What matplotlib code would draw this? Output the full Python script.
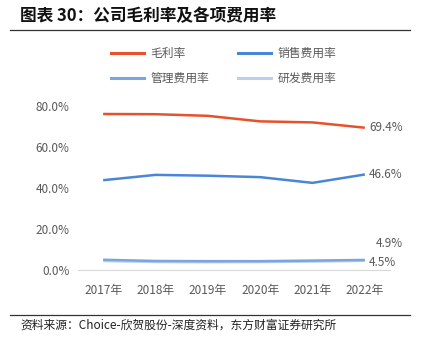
import matplotlib.pyplot as plt
from matplotlib.lines import Line2D

plt.rcParams['font.family'] = ['Noto Sans CJK SC', 'DejaVu Sans']

years = ['2017年', '2018年', '2019年', '2020年', '2021年', '2022年']
gross = [76.1, 76.0, 75.2, 72.5, 72.0, 69.4]
sales = [43.8, 46.4, 46.0, 45.3, 42.5, 46.6]
admin = [5.0, 4.4, 4.3, 4.3, 4.6, 4.9]
rnd = [4.4, 3.9, 3.8, 3.9, 4.1, 4.5]

names = ['毛利率', '销售费用率', '管理费用率', '研发费用率']
colors = ['#E6522C', '#4A86D6', '#7CA5DF', '#B9D0F0']
GRAY = '#595959'

fig = plt.figure(figsize=(4.3, 3.37), dpi=100)
ax = fig.add_axes([78/430, 1-270/337, 312/430, 164/337])

x = range(len(years))
series = [gross, sales, admin, rnd]
for i in [3, 2, 1, 0]:
    ax.plot(x, series[i], color=colors[i], lw=1.8, solid_capstyle='butt')

ax.set_xlim(-0.48, 5.48)
ax.set_ylim(0, 80)
ax.set_yticks([0, 20, 40, 60, 80])
ax.set_yticklabels(['%.1f%%' % v for v in [0, 20, 40, 60, 80]])
ax.set_xticks(list(x))
ax.set_xticklabels(years)
for s in ['top', 'right', 'left']:
    ax.spines[s].set_visible(False)
ax.spines['bottom'].set_color('#D9D9D9')
ax.tick_params(length=0, labelsize=8.5, colors=GRAY, pad=6)
ax.tick_params(axis='x', pad=10)

# end labels
ax.annotate('69.4%', (5, gross[-1]), xytext=(3, 0), textcoords='offset points',
            va='center', ha='left', fontsize=8.5, color=GRAY)
ax.annotate('46.6%', (5, sales[-1]), xytext=(3, 0), textcoords='offset points',
            va='center', ha='left', fontsize=8.5, color=GRAY)
ax.annotate('4.9%', (5, admin[-1]), xytext=(8, 12), textcoords='offset points',
            va='center', ha='left', fontsize=8.5, color=GRAY, annotation_clip=False)
ax.annotate('4.5%', (5, rnd[-1]), xytext=(3, -1), textcoords='offset points',
            va='center', ha='left', fontsize=8.5, color=GRAY, annotation_clip=False)

# legend filled row by row like the original
handles = [Line2D([], [], color=c, lw=2.2) for c in colors]
idx = [0, 2, 1, 3]
fig.legend([handles[i] for i in idx], [names[i] for i in idx], ncol=2, loc='center',
           bbox_to_anchor=(0.52, 1-66/337), frameon=False, fontsize=8.5,
           labelcolor=GRAY, handlelength=2.8, columnspacing=2.4,
           handletextpad=0.6, labelspacing=1.0)

# title and frame lines
fig.text(20/430, 1-16/337, '图表 30：公司毛利率及各项费用率', fontsize=12,
         fontweight='bold', va='center', ha='left', color='#111111')
fig.add_artist(Line2D([10/430, 410/430], [1-30/337, 1-30/337], color='#333333', lw=0.9))
fig.add_artist(Line2D([10/430, 410/430], [1-315/337, 1-315/337], color='#333333', lw=0.9))
fig.text(20/430, 1-325/337, '资料来源：Choice-欣贺股份-深度资料，东方财富证券研究所', fontsize=8.5,
         va='center', ha='left', color='#222222')

fig.savefig('out.png', dpi=100)
